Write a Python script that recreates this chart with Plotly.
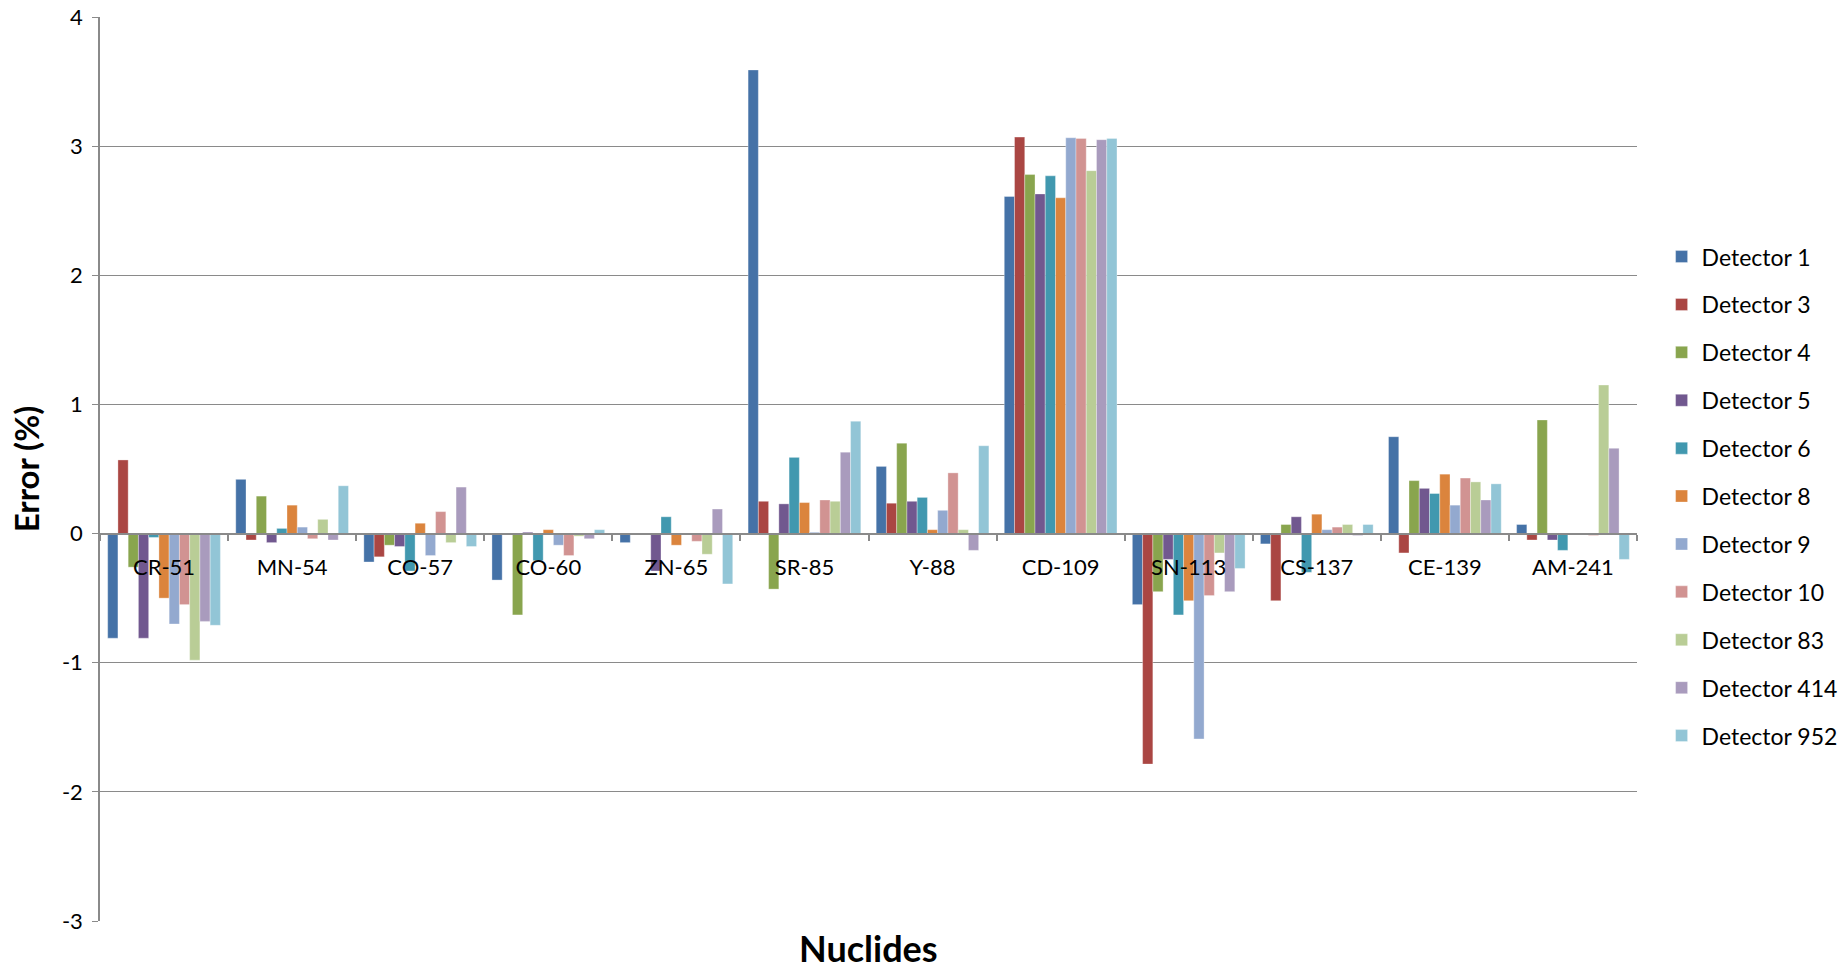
import plotly.graph_objects as go

nuclides = ["CR-51", "MN-54", "CO-57", "CO-60", "ZN-65", "SR-85",
            "Y-88", "CD-109", "SN-113", "CS-137", "CE-139", "AM-241"]

det_1 = [-0.81, 0.42, -0.22, -0.36, -0.07, 3.59, 0.52, 2.61, -0.55, -0.08, 0.75, 0.07]
det_3 = [0.57, -0.05, -0.18, 0.0, 0.0, 0.25, 0.235, 3.07, -1.785, -0.52, -0.15, -0.05]
det_4 = [-0.26, 0.29, -0.09, -0.63, 0.0, -0.43, 0.70, 2.78, -0.45, 0.07, 0.41, 0.88]
det_5 = [-0.81, -0.07, -0.10, 0.01, -0.29, 0.23, 0.25, 2.63, -0.20, 0.13, 0.35, -0.05]
det_6 = [-0.03, 0.04, -0.29, -0.21, 0.13, 0.59, 0.28, 2.77, -0.63, -0.30, 0.31, -0.13]
det_8 = [-0.50, 0.22, 0.08, 0.03, -0.09, 0.24, 0.03, 2.60, -0.52, 0.15, 0.46, 0.0]
det_9 = [-0.70, 0.05, -0.17, -0.09, 0.0, 0.01, 0.18, 3.065, -1.59, 0.03, 0.22, 0.0]
det_10 = [-0.55, -0.04, 0.17, -0.17, -0.06, 0.26, 0.47, 3.06, -0.48, 0.05, 0.43, -0.015]
det_83 = [-0.98, 0.11, -0.07, -0.02, -0.16, 0.25, 0.03, 2.81, -0.15, 0.07, 0.40, 1.15]
det_414 = [-0.68, -0.05, 0.36, -0.04, 0.19, 0.63, -0.13, 3.05, -0.45, -0.015, 0.26, 0.66]
det_952 = [-0.71, 0.37, -0.10, 0.03, -0.39, 0.87, 0.68, 3.06, -0.27, 0.07, 0.385, -0.20]

series_names = ["Detector 1", "Detector 3", "Detector 4", "Detector 5", "Detector 6",
                "Detector 8", "Detector 9", "Detector 10", "Detector 83",
                "Detector 414", "Detector 952"]
series_values = [det_1, det_3, det_4, det_5, det_6, det_8, det_9, det_10,
                 det_83, det_414, det_952]
colors = ["#4572A7", "#AA4643", "#89A54E", "#71588F", "#4198AF", "#DB843D",
          "#93A9CF", "#D19392", "#B9CD96", "#A99BBD", "#92C5D6"]

# y ticks use a plain hyphen for negatives
y_tick_values = [-3, -2, -1, 0, 1, 2, 3, 4]
y_tick_labels = ["-3", "-2", "-1", "0", "1", "2", "3", "4"]

FONT = "Lato, Carlito, Calibri, sans-serif"
GRID = "#8A8A8A"

fig = go.Figure()
for name, vals, col in zip(series_names, series_values, colors):
    fig.add_trace(go.Bar(
        x=nuclides, y=vals, name=name, legendgroup=name,
        marker=dict(color=col, line=dict(color="rgba(255,255,255,0.55)", width=0.6)),
    ))

fig.update_layout(
    width=1846, height=969,
    margin=dict(l=100, r=209, t=17, b=48, autoexpand=False),
    plot_bgcolor="white", paper_bgcolor="white",
    barmode="group", bargap=0.12, bargroupgap=0.0,
    font=dict(family=FONT, size=22, color="#000000"),
    showlegend=True,
    legend=dict(
        x=1.016, xanchor="left", y=0.47, yanchor="middle",
        font=dict(family=FONT, size=23, color="#000000"),
        traceorder="grouped", tracegroupgap=15,
        bgcolor="rgba(0,0,0,0)", itemwidth=30,
    ),
    xaxis=dict(
        type="category", anchor="free", position=3 / 7,
        showline=True, linecolor=GRID, linewidth=2,
        ticks="outside", ticklen=6, tickcolor=GRID, tickwidth=1.5,
        tickson="boundaries", showgrid=False, automargin=False,
        tickfont=dict(family=FONT, size=22, color="#000000"),
        ticklabelstandoff=14,
    ),
    yaxis=dict(
        range=[-3, 4], tickvals=y_tick_values, ticktext=y_tick_labels,
        showgrid=True, gridcolor=GRID, gridwidth=1.2,
        zeroline=False, automargin=False,
        showline=True, linecolor=GRID, linewidth=1.5,
        ticks="outside", ticklen=6, tickcolor=GRID,
        tickfont=dict(family=FONT, size=22, color="#000000"),
        ticklabelstandoff=5,
        title=dict(text="<b>Error (%)</b>", font=dict(family=FONT, size=33, color="#000000"),
                   standoff=12),
    ),
    annotations=[dict(
        text="<b>Nuclides</b>", xref="paper", yref="paper", x=0.5, y=0,
        xanchor="center", yanchor="middle", yshift=-27, showarrow=False,
        font=dict(family=FONT, size=36, color="#000000"),
    )],
)

fig.write_html("out.html")
